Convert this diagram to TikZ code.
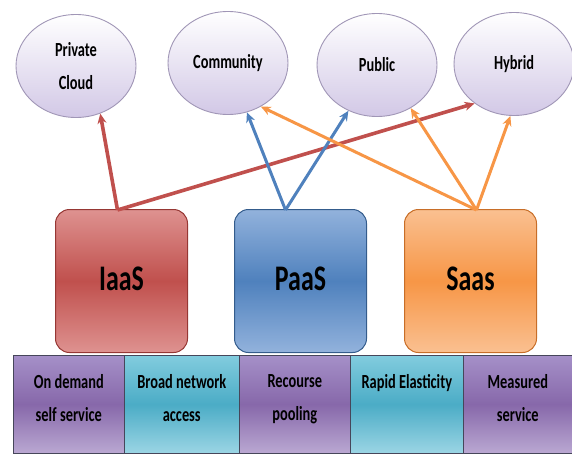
\documentclass[tikz,border=0pt]{standalone}
\usepackage{fontspec}
\setmainfont{Carlito}[FakeStretch=0.72]
\usetikzlibrary{arrows.meta,shapes.geometric,calc}
\definecolor{ellfill}{RGB}{210,200,230}
\definecolor{ellline}{RGB}{160,150,182}
\definecolor{redM}{RGB}{192,80,77}
\definecolor{redL}{RGB}{222,146,144}
\definecolor{redD}{RGB}{150,55,52}
\definecolor{bluM}{RGB}{79,129,189}
\definecolor{bluL}{RGB}{146,178,220}
\definecolor{bluD}{RGB}{52,92,140}
\definecolor{orgM}{RGB}{247,150,70}
\definecolor{orgL}{RGB}{250,192,145}
\definecolor{orgD}{RGB}{200,110,40}
\definecolor{purT}{RGB}{165,144,200}
\definecolor{purM}{RGB}{135,104,170}
\definecolor{purB}{RGB}{186,168,210}
\definecolor{cyaT}{RGB}{130,204,222}
\definecolor{cyaM}{RGB}{75,172,198}
\definecolor{cyaB}{RGB}{155,213,228}
\definecolor{cellline}{RGB}{70,70,90}
\begin{document}
\begin{tikzpicture}[x=1pt,y=-1pt,
  deploy/.style={ellipse, minimum width=120pt, minimum height=103pt, inner sep=0pt,
     top color=white, bottom color=ellfill, draw=ellline, line width=0.9pt,
     align=center, font=\fontsize{20}{33}\selectfont\bfseries},
  svcbox/.style={rectangle, rounded corners=14pt, minimum width=132pt, minimum height=143pt,
     inner sep=0pt, line width=1pt, text height=23pt, text depth=5pt,
     font=\fontsize{36}{40}\selectfont\bfseries},
  cellbox/.style={rectangle, anchor=north west, minimum height=98pt, inner sep=0pt,
     draw=cellline, line width=0.6pt},
  purcell/.style={cellbox, top color=purT, bottom color=purB, middle color=purM},
  cyacell/.style={cellbox, top color=cyaT, bottom color=cyaB, middle color=cyaM},
  celltext/.style={anchor=north, inner sep=0pt, align=center, font=\fontsize{20}{33}\selectfont\bfseries},
  arr/.style={line width=3pt, -{Stealth[length=10pt,width=9pt]}},
  rarr/.style={line width=3.6pt, -{Stealth[length=10pt,width=9pt]}}
]
\useasboundingbox (0,0) rectangle (572,455);

% deployment models
\node[deploy] (priv) at (76,66) {Private\\Cloud};
\node[deploy] (comm) at (228,63) {Community};
\node[deploy] (publ) at (377,65) {Public};
\node[deploy] (hybr) at (514,64) {Hybrid};

% service boxes
\node[svcbox, top color=redL, bottom color=redL, middle color=redM, draw=redD] (iaas) at (121.5,281) {IaaS};
\node[svcbox, top color=bluL, bottom color=bluL, middle color=bluM, draw=bluD] (paas) at (300.5,281) {PaaS};
\node[svcbox, top color=orgL, bottom color=orgL, middle color=orgM, draw=orgD] (saas) at (470.5,281) {Saas};

% arrow origins
\coordinate (iaasO) at ($(iaas.north)+(-4,1)$);
\coordinate (paasO) at ($(paas.north)+(-15,1)$);
\coordinate (saasO) at ($(saas.north)+(6,1)$);

% arrows
\draw[rarr, redM] (iaasO) -- (priv.-63);
\draw[rarr, redM] (iaasO) -- (hybr.-135);
\draw[arr, bluM] (paasO) -- (comm.-69);
\draw[arr, bluM] (paasO) -- (publ.-122);
\draw[arr, orgM] (saasO) -- (comm.-53);
\draw[arr, orgM] (saasO) -- (publ.-52);
\draw[arr, orgM] (saasO) -- (hybr.-94);

% characteristics band
\node[purcell, minimum width=111pt] (c1) at (13,355) {};
\node[cyacell, minimum width=115pt] (c2) at (124,355) {};
\node[purcell, minimum width=111pt] (c3) at (239,355) {};
\node[cyacell, minimum width=113pt] (c4) at (350,355) {};
\node[purcell, minimum width=109pt] (c5) at (463,355) {};

\node[celltext] (t1) at ($(c1.north)+(0,19)$) {On demand\\self service};
\node[celltext] (t2) at ($(c2.north)+(0,19)$) {Broad network\\access};
\node[celltext] (t3) at ($(c3.north)+(0,19)$) {Recourse\\pooling};
\node[celltext] (t4) at ($(c4.north)+(0,19)$) {Rapid Elasticity};
\node[celltext] (t5) at ($(c5.north)+(0,19)$) {Measured\\service};
\end{tikzpicture}
\end{document}
